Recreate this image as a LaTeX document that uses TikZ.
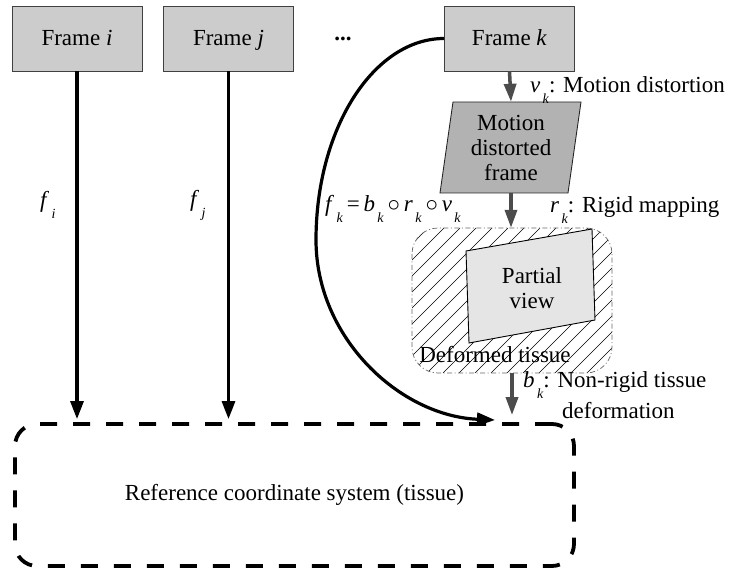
\documentclass[tikz,border=0pt]{standalone}
\usepackage{fontspec}
\setmainfont{Liberation Serif}
\usetikzlibrary{arrows.meta}
\newcommand{\isub}[2]{\textit{#1}\raisebox{-0.45em}{\fontsize{14}{14}\selectfont\,\textit{#2}}}
\begin{document}
\begin{tikzpicture}[x=1pt,y=-1pt,
  font=\fontsize{23}{25}\selectfont,
  framebox/.style={draw=black!75, fill=black!20, line width=0.9pt,
    minimum width=130pt, minimum height=65pt, inner sep=0pt,
    text height=17pt, text depth=2pt},
  blk/.style={line width=3.2pt, -{Triangle[length=18pt,width=13pt]}},
  gry/.style={draw=black!70, fill=black!70, line width=3.5pt,
    -{Triangle[length=18pt,width=12pt]}},
  lbl/.style={anchor=base west, inner sep=0pt},
  ghost/.style={inner sep=0pt, align=center}]
\useasboundingbox (0,0) rectangle (729,572);

% frames
\node[framebox] (fi) at (77,38.5) {Frame \textit{i}};
\node[framebox] (fj) at (228.5,38.5) {Frame \textit{j}};
\node[framebox] (fk) at (509.5,38.5) {Frame \textit{k}};
\node[anchor=base, inner sep=0pt] (dots) at (343,41) {\textbf{...}};

% reference box
\node[draw, line width=3.8pt, dash pattern=on 17pt off 16pt,
  rounded corners=22pt, minimum width=559pt, minimum height=142pt,
  inner sep=0pt] (ref) at (294.5,495) {Reference coordinate system (tissue)};

% motion distorted frame (parallelogram)
\draw[fill=black!30, draw=black!85, line width=0.9pt]
  (453,102) -- (581,102) -- (568,193) -- (440,193) -- cycle;
\node[ghost, minimum width=128pt, minimum height=91pt] (md) at (511,147.5)
  {Motion\\distorted\\frame};

% deformed tissue region
\node[inner sep=0pt, minimum width=200pt, minimum height=145pt] (tis) at (512,300.5) {};
\begin{scope}
  \clip[rounded corners=26pt] (412,228) rectangle (612,373);
  \foreach \i in {0,16,...,368}
    \draw[line width=0.6pt] (412-145+\i,373) -- ++(145,-145);
\end{scope}
\draw[black!60, line width=0.7pt, dash pattern=on 5pt off 2.5pt on 1pt off 2.5pt,
  rounded corners=26pt] (412,228) rectangle (612,373);
\draw[fill=black!10, line width=0.9pt]
  (466,251) -- (592,229) -- (595,320) -- (469,343) -- cycle;
\node[ghost] (pv) at (532,288) {Partial\\view};
\node[inner sep=0pt] (dt) at (495,355) {Deformed tissue};

% arrows
\draw[blk, shorten >=3pt] (fi.south) -- (fi.south |- ref.north);
\draw[blk, shorten >=3pt] (fj.south) -- (fj.south |- ref.north);
\coordinate (cend) at (495,420);
\draw[blk] (fk.west) .. controls (374,38.5) and (316,128) .. (316,240)
  .. controls (316,338) and (400,416) .. (cend);
\draw[gry] (fk.south) -- (md.north);
\draw[gry] (md.south) -- (md.south |- tis.north);
\draw[gry, shorten >=7pt] (tis.south) -- (tis.south |- ref.north);

% labels
\node[lbl] (lfi) at (40,208) {\isub{f}{i}};
\node[lbl] (lfj) at (190,207) {\isub{f}{j}};
\node[lbl] (lfk) at (325,212) {\isub{f}{k}\,=\,\isub{b}{k}\,$\circ$\,\isub{r}{k}\,$\circ$\,\isub{v}{k}};
\node[lbl] (lv) at (530,93) {\isub{v}{k}: Motion distortion};
\node[lbl] (lr) at (550,213) {\isub{r}{k}: Rigid mapping};
\node[lbl] (lb) at (523,388) {\isub{b}{k}: Non-rigid tissue};
\node[lbl] (ld) at (562,418) {deformation};
\end{tikzpicture}
\end{document}
